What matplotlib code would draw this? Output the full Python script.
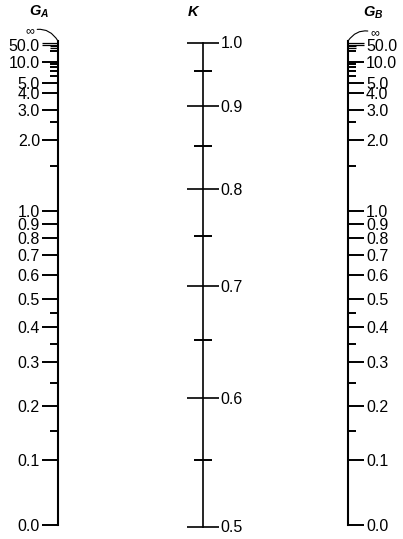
import numpy as np
import matplotlib
matplotlib.use('Agg')
import matplotlib.pyplot as plt

plt.rcParams['font.family'] = ['Liberation Sans', 'DejaVu Sans']
plt.rcParams['mathtext.fontset'] = 'custom'
plt.rcParams['mathtext.it'] = 'Liberation Sans:bold:italic'
plt.rcParams['mathtext.rm'] = 'Liberation Sans:bold'

# G scale (same on both outer axes)
g_major = [0.0, 0.1, 0.2, 0.3, 0.4, 0.5, 0.6, 0.7, 0.8, 0.9, 1.0,
           2.0, 3.0, 4.0, 5.0, 10.0, 50.0, 100.0]
g_minor = [0.15, 0.25, 0.35, 0.45, 1.5, 2.5, 6.0, 7.0, 8.0, 9.0,
           20.0, 30.0, 40.0]
# K scale
k_major = [0.5, 0.6, 0.7, 0.8, 0.9, 1.0]
k_minor = [0.55, 0.65, 0.75, 0.85, 0.95]

G_TOP = 1e9   # stands in for infinity

# G scale: squashes 0..inf onto 0..1
G_SCALE, G_POW = 0.565, 1.077

def g_fwd(g):
    g = np.clip(np.asarray(g, float), 0, G_TOP)
    t = (g / G_SCALE) ** G_POW
    return t / (1 + t)

def g_inv(u):
    u = np.clip(np.asarray(u, float), 0, 1 - 1e-12)
    return G_SCALE * (u / (1 - u)) ** (1 / G_POW)

# braced frame: G for which G_A = G_B = G gives this K
def g_of_k(k):
    k = np.clip(np.asarray(k, float), 0.5 + 1e-9, 1 - 1e-9)
    x = np.pi / k
    a = x ** 2 / 4
    b = 1 - x / np.tan(x)
    c = 2 * np.tan(x / 2) / x - 1
    return -2 * c / (b + np.sqrt(b ** 2 - 4 * a * c))

def k_fwd(k):
    return g_fwd(g_of_k(k))

k_grid = np.linspace(0.5, 1.0, 4001)
u_grid = k_fwd(k_grid)

def k_inv(u):
    return np.interp(u, u_grid, k_grid)

W, H = 403, 539
fig = plt.figure(figsize=(W / 100, H / 100), dpi=100)

def strip(x_spine, top, bottom, side):
    w = 20
    left = x_spine if side == 'left' else x_spine - w
    ax = fig.add_axes([left / W, 1 - bottom / H, w / W, (bottom - top) / H])
    ax.patch.set_visible(False)
    for s in ['top', 'bottom', 'left', 'right']:
        ax.spines[s].set_visible(s == side)
    ax.xaxis.set_visible(False)
    if side == 'right':
        ax.yaxis.tick_right()
    return ax

def g_axis(x_spine, side):
    ax = strip(x_spine, 41, 525, side)
    ax.spines[side].set_linewidth(1.5)
    ax.set_yscale('function', functions=(g_fwd, g_inv))
    ax.set_ylim(0, G_TOP)
    ax.set_yticks(g_major)
    ax.set_yticklabels(['%.1f' % v if v <= 50 else '' for v in g_major])
    ax.set_yticks(g_minor, minor=True)
    ax.tick_params(axis='y', which='major', direction='out', length=11.5,
                   width=1.4, pad=1.5, labelsize=11.5)
    ax.tick_params(axis='y', which='minor', direction='out', length=5.8,
                   width=1.4)
    # the crowded ticks near infinity print grey and thin
    ticks = ax.yaxis.get_major_ticks() + ax.yaxis.get_minor_ticks()
    for t, v in zip(ticks, g_major + g_minor):
        if v >= 30:
            for ln in (t.tick1line, t.tick2line):
                ln.set_color('0.45')
                ln.set_markeredgewidth(0.9)
    return ax

ax_a = g_axis(58, 'left')
ax_b = g_axis(348, 'right')

ax_k = strip(202.5, 42.5, 526.5, 'right')
ax_k.spines['right'].set_linewidth(1.2)
ax_k.set_yscale('function', functions=(k_fwd, k_inv))
ax_k.set_ylim(0.5, 1.0)
ax_k.set_yticks(k_major)
ax_k.set_yticklabels(['%.1f' % v for v in k_major])
ax_k.set_yticks(k_minor, minor=True)
ax_k.tick_params(axis='y', which='major', direction='inout', length=23,
                 width=1.2, pad=1.5, labelsize=11.5)
ax_k.tick_params(axis='y', which='minor', direction='inout', length=13,
                 width=1.4)

# infinity marks with curved leaders to the top of the G axes
ax_a.annotate('\u221e', xy=(0, 1), xycoords='axes fraction',
              xytext=(30 / W, 1 - 31 / H), textcoords='figure fraction',
              ha='center', va='center', fontsize=9,
              arrowprops=dict(arrowstyle='-', lw=0.8, shrinkA=0, shrinkB=0,
                              connectionstyle='arc3,rad=-0.4'))
ax_b.annotate('\u221e', xy=(1, 1), xycoords='axes fraction',
              xytext=(375 / W, 1 - 33 / H), textcoords='figure fraction',
              ha='center', va='center', fontsize=9,
              arrowprops=dict(arrowstyle='-', lw=0.8, shrinkA=0, shrinkB=0,
                              connectionstyle='arc3,rad=0.4'))

# scale titles
fig.text(39 / W, 1 - 12 / H, r'$G_A$', ha='center', va='center', fontsize=10.5)
fig.text(194 / W, 1 - 12 / H, r'$K$', ha='center', va='center', fontsize=10.5)
fig.text(373 / W, 1 - 13 / H, r'$G_B$', ha='center', va='center', fontsize=10.5)

fig.savefig('out.png', dpi=100)
